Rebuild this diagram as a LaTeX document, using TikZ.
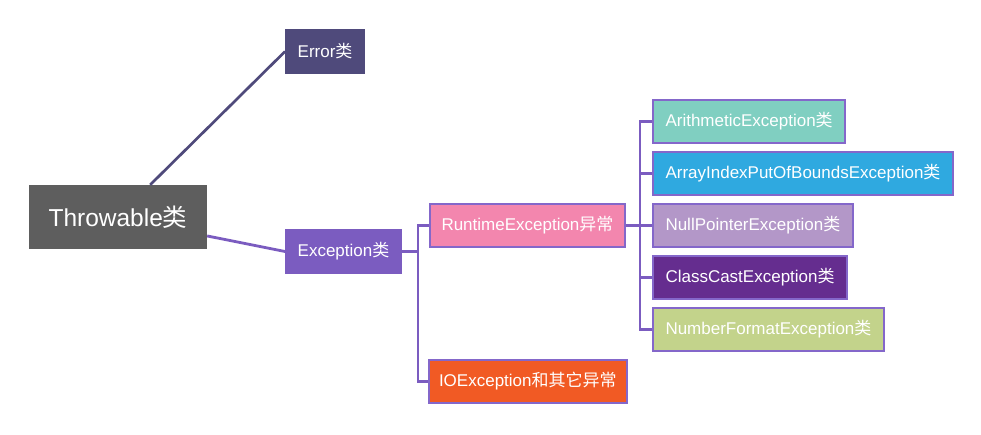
\documentclass[tikz,border=0pt]{standalone}
\usepackage{fontspec}
\setmainfont{Liberation Sans}
\newfontfamily\cjk{Noto Sans CJK SC}
\usetikzlibrary{positioning}
\definecolor{throwgray}{HTML}{5E5E5E}
\definecolor{errpurple}{HTML}{4F4A7B}
\definecolor{excpurple}{HTML}{7B5CC0}
\definecolor{framepurple}{HTML}{8467CA}
\definecolor{runpink}{HTML}{F386AE}
\definecolor{ioorange}{HTML}{F15A24}
\definecolor{arithteal}{HTML}{80CFC1}
\definecolor{arrblue}{HTML}{2FA9E0}
\definecolor{nullmauve}{HTML}{B397C8}
\definecolor{ccpurple}{HTML}{652D8F}
\definecolor{nfgreen}{HTML}{C3D38B}
\newcommand{\lei}{{\cjk 类}}

\begin{document}
\begin{tikzpicture}[x=1pt, y=1pt,
		klass/.style={
			rectangle,
			text=white,
			inner xsep=12.5pt, inner ysep=0pt,
			minimum height=45pt,
			font=\fontsize{17}{20}\selectfont},
		framed/.style={klass, draw=framepurple, line width=2pt, minimum height=43pt},
		link/.style={draw=excpurple, line width=2.8pt},
		node distance=7pt]
		\useasboundingbox (0,0) rectangle (981,-434);
		\node[klass, fill=throwgray, minimum width=178pt, minimum height=64pt,
			font=\fontsize{24.5}{28}\selectfont] (throw) at (118,-217) {Throwable\lei};
		\node[klass, fill=errpurple, anchor=west] (err) at (285,-51.5) {Error\lei};
		\node[klass, fill=excpurple, anchor=west] (exc) at (285,-251.5) {Exception\lei};
		\draw [draw=errpurple, line width=2.7pt] (throw.45) -- (err.west);
		\draw [link] (throw.-12) -- (exc.west);
		% second level
		\node[framed, fill=runpink, inner xsep=11.5pt, anchor=west] (run) at (429,-225.5) {RuntimeException{\cjk 异常}};
		\node[framed, fill=ioorange, inner xsep=10pt, anchor=west] (io) at (428,-381.5) {IOException{\cjk 和其它异常}};
		\coordinate (t1) at ([xshift=-11pt]run.west);
		\draw [link] (run.west) -- (t1) |- (io.west);
		\draw [link] (exc.east) -- (exc.east -| t1);
		% runtime exceptions
		\node[framed, fill=arithteal, anchor=west] (arith) at (652,-121.5) {ArithmeticException\lei};
		\node[framed, fill=arrblue, below=7pt of arith.south west, anchor=north west] (arr) {ArrayIndexPutOfBoundsException\lei};
		\node[framed, fill=nullmauve, below=7pt of arr.south west, anchor=north west] (null) {NullPointerException\lei};
		\node[framed, fill=ccpurple, below=7pt of null.south west, anchor=north west] (cc) {ClassCastException\lei};
		\node[framed, fill=nfgreen, below=7pt of cc.south west, anchor=north west] (nf) {NumberFormatException\lei};
		\coordinate (t2) at ([xshift=-12pt]arith.west);
		\draw [link] (arith.west) -- (t2) |- (nf.west);
		\foreach \n in {arr, null, cc}
			\draw [link] (\n.west) -- (\n.west -| t2);
		\draw [link] (run.east) -- (run.east -| t2);
\end{tikzpicture}
\end{document}
